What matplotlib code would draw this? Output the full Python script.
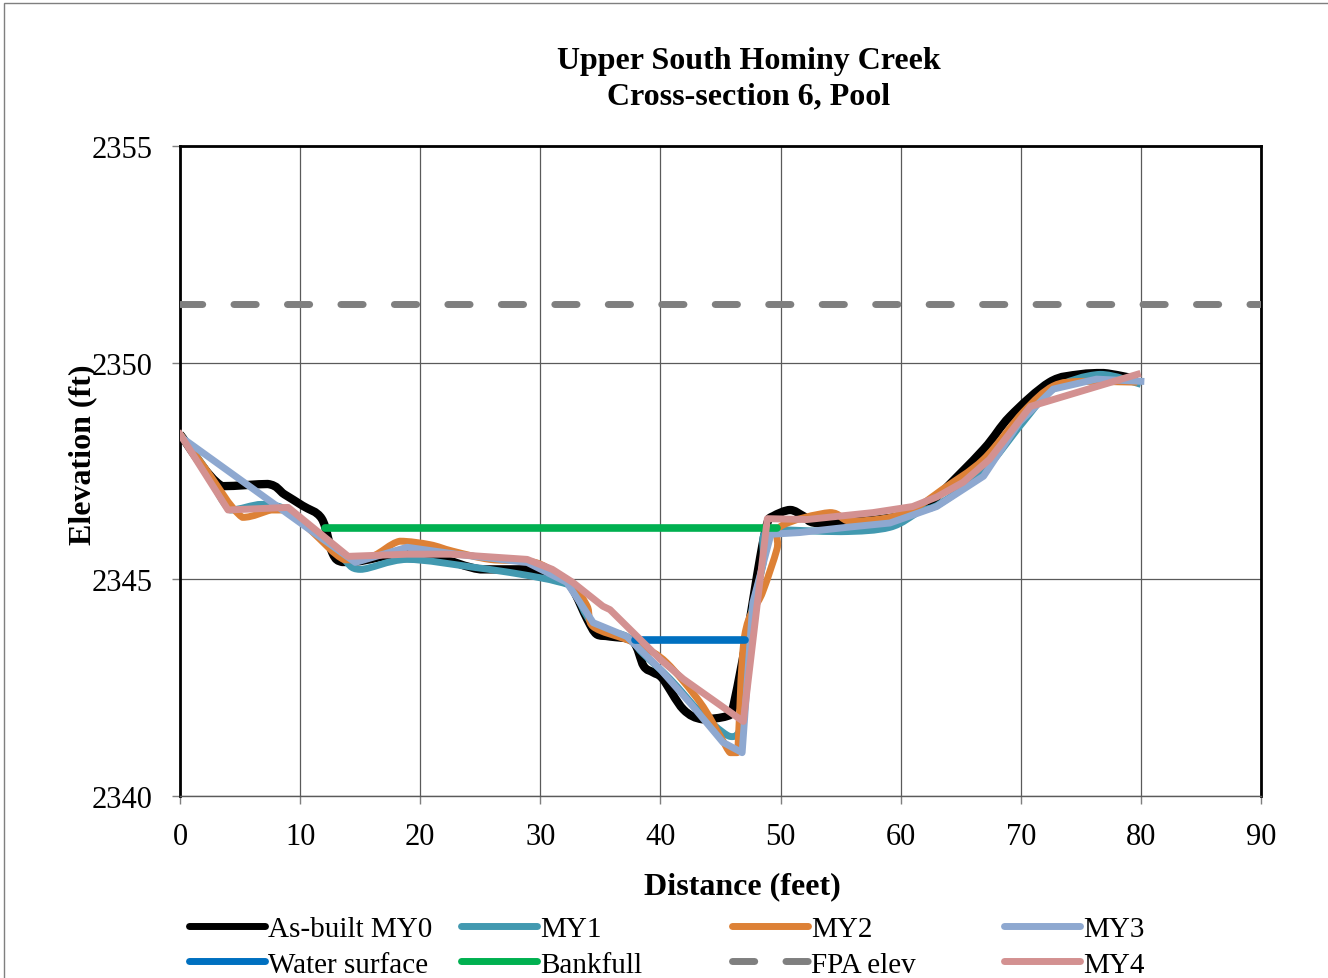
import matplotlib
matplotlib.use("Agg")
import matplotlib.pyplot as plt
import numpy as np
from matplotlib.lines import Line2D
from matplotlib.patches import Rectangle, PathPatch
from matplotlib.path import Path

plt.rcParams['font.family'] = ['Liberation Serif', 'DejaVu Serif']

# Cross-section survey data (distance ft, elevation ft)
my0_x = [0, 3.5, 7.3, 8.7, 10.2, 11.8, 12.7, 13.5, 15, 18.9, 21.6, 25, 28.9, 31.6, 32.7, 33.9,
         34.7, 35.8, 37.7, 38.6, 39.4, 40.2, 41.9, 43.5, 45.5, 46, 47.2, 48.3, 48.9, 49.4, 50.8,
         51.9, 53, 57, 60, 61.6, 63, 66.9, 69.1, 72.4, 74.9, 76.9, 79.7]
my0_y = [2348.35, 2347.15, 2347.2, 2346.96, 2346.7, 2346.4, 2345.6, 2345.4, 2345.42, 2345.62,
         2345.5, 2345.23, 2345.23, 2345.07, 2344.77, 2344.08, 2343.73, 2343.68, 2343.57, 2343.0,
         2342.85, 2342.7, 2342.0, 2341.77, 2341.84, 2342.0, 2343.68, 2345.5, 2346.3, 2346.46,
         2346.6, 2346.46, 2346.3, 2346.35, 2346.46, 2346.6, 2346.9, 2348.0, 2348.76, 2349.55,
         2349.73, 2349.76, 2349.62]

my1_x = [0, 2, 4.2, 6.8, 9, 11, 13.5, 15, 18.9, 24.4, 28.3, 31.4, 32.7, 34.4, 37.2, 38.5, 40.8,
         43.3, 45.2, 46, 46.6, 47.2, 48.5, 49.1, 55, 59.1, 61.6, 63.3, 66.9, 70.2, 72.7, 76.6, 80]
my1_y = [2348.35, 2347.6, 2346.6, 2346.73, 2346.6, 2346.15, 2345.5, 2345.23, 2345.46, 2345.28,
         2345.12, 2344.95, 2344.77, 2343.96, 2343.68, 2343.3, 2342.7, 2341.93, 2341.47, 2341.37,
         2341.53, 2343.68, 2345.3, 2346.15, 2346.1, 2346.2, 2346.57, 2346.75, 2347.5, 2348.63,
         2349.39, 2349.73, 2349.5]

my2_x = [0, 2, 5.2, 7.6, 9, 11, 13.7, 16, 18.3, 20.8, 22.7, 25.8, 28.9, 30.5, 32.7, 33.9, 34.4,
         37.2, 38.5, 40.5, 43.3, 45, 45.8, 46.4, 47, 48.5, 49.7, 50, 54.1, 55.8, 59.1, 61.4, 63.5,
         66.9, 70.2, 72.7, 75.2, 79.7]
my2_y = [2348.35, 2347.6, 2346.43, 2346.6, 2346.6, 2346.1, 2345.45, 2345.53, 2345.88, 2345.8,
         2345.65, 2345.46, 2345.42, 2345.28, 2344.84, 2344.38, 2343.91, 2343.61, 2343.45,
         2343.08, 2342.16, 2341.37, 2341.0, 2341.0, 2343.68, 2344.7, 2345.7, 2346.22, 2346.54,
         2346.34, 2346.43, 2346.68, 2347.08, 2347.77, 2348.86, 2349.46, 2349.57, 2349.55]

my3_x = [0, 14.6, 18.9, 23, 28.9, 32.2, 34.4, 37.2, 40, 42.7, 45.2, 46.8, 47.7, 49.2, 51.6,
         55.5, 59.1, 63, 66.9, 69.9, 72.7, 76.3, 80]
my3_y = [2348.3, 2345.39, 2345.74, 2345.58, 2345.39, 2344.93, 2344.0, 2343.68, 2342.92,
         2342.07, 2341.24, 2341.0, 2344.47, 2346.04, 2346.08, 2346.2, 2346.3, 2346.68, 2347.38,
         2348.63, 2349.39, 2349.62, 2349.57]

my4_x = [0, 4.0, 9.0, 14.0, 18.9, 22.5, 28.9, 31, 32.7, 35.2, 35.8, 40, 41.9, 46.9, 48.9, 52.2,
         57.7, 61, 63, 65.2, 67.4, 70.8, 79.7]
my4_y = [2348.35, 2346.6, 2346.66, 2345.53, 2345.58, 2345.58, 2345.46, 2345.23, 2344.93,
         2344.38, 2344.3, 2343.15, 2342.7, 2341.72, 2346.4, 2346.38, 2346.54, 2346.68, 2346.9,
         2347.24, 2347.77, 2348.99, 2349.73]

water_x = [37.9, 47.0]
water_y = [2343.59, 2343.59]
bankfull_x = [12.1, 49.7]
bankfull_y = [2346.18, 2346.18]
fpa_x = [0, 90]
fpa_y = [2351.35, 2351.35]

FPA_DASH = (3.2, 4.5)


def smooth_line(ax, xs, ys, color, lw):
    # smoothed line: cubic Bezier through each point, control points kept
    # inside each segment's elevation range so it does not overshoot
    p = np.column_stack([xs, ys]).astype(float)
    verts = [p[0]]
    codes = [Path.MOVETO]
    n = len(p)
    for i in range(n - 1):
        p0 = p[i - 1] if i > 0 else p[i]
        p1 = p[i]
        p2 = p[i + 1]
        p3 = p[i + 2] if i + 2 < n else p[i + 1]
        c1 = p1 + (p2 - p0) / 6.0
        c2 = p2 - (p3 - p1) / 6.0
        lo, hi = min(p1[1], p2[1]), max(p1[1], p2[1])
        c1[1] = np.clip(c1[1], lo, hi)
        c2[1] = np.clip(c2[1], lo, hi)
        verts += [c1, c2, p2]
        codes += [Path.CURVE4] * 3
    patch = PathPatch(Path(verts, codes), facecolor='none', edgecolor=color, lw=lw,
                      joinstyle='round', capstyle='butt', zorder=3)
    ax.add_patch(patch)


fig = plt.figure(figsize=(13.28, 9.79), dpi=100)
ax = fig.add_axes([180 / 1328, 1 - 797 / 979, 1081 / 1328, 650 / 979])

smooth_line(ax, my0_x, my0_y, 'black', 6)
smooth_line(ax, my1_x, my1_y, '#4299B0', 5)
smooth_line(ax, my2_x, my2_y, '#DD8136', 5)
ax.plot(my3_x, my3_y, color='#8EA8D0', lw=5, solid_joinstyle='round', zorder=3)
ax.plot(water_x, water_y, color='#0070C0', lw=5.5, solid_capstyle='round', zorder=3)
ax.plot(bankfull_x, bankfull_y, color='#00B050', lw=5.5, solid_capstyle='round', zorder=3)
ax.plot(fpa_x, fpa_y, color='#7F7F7F', lw=5, dashes=FPA_DASH, dash_capstyle='round', zorder=3)
ax.plot(my4_x, my4_y, color='#D39191', lw=5, solid_joinstyle='round', zorder=3)

ax.set_xlim(0, 90)
ax.set_ylim(2340, 2355)
ax.set_xticks(range(0, 91, 10))
ax.set_yticks(range(2340, 2356, 5))
ax.grid(True, color='#5A5A5A', lw=0.9)
ax.set_axisbelow(True)
ax.tick_params(labelsize=22, length=6, width=1, color='#7F7F7F', direction='out')
ax.tick_params(axis='y', pad=14)
ax.tick_params(axis='x', pad=13)
for side in ['left', 'top', 'right']:
    ax.spines[side].set_color('black')
    ax.spines[side].set_linewidth(2)
ax.spines['bottom'].set_color('#5A5A5A')
ax.spines['bottom'].set_linewidth(1)

fig.text(749 / 1328, 1 - 79 / 979, 'Upper South Hominy Creek\nCross-section 6, Pool',
         ha='center', va='center', fontsize=23, fontweight='bold', linespacing=1.3)
fig.text(742 / 1328, 1 - 887 / 979, 'Distance (feet)', ha='center', va='center',
         fontsize=23, fontweight='bold')
fig.text(83 / 1328, 1 - 455 / 979, 'Elevation (ft)', ha='center', va='center',
         fontsize=23, fontweight='bold', rotation=90)

# outer chart border
fig.patches.append(Rectangle((4 / 1328, -0.01), 1.1, 1 - 4 / 979 + 0.01, transform=fig.transFigure,
                             fill=False, edgecolor='#7F7F7F', lw=1))

# legend: four columns of two rows, evenly spaced like the original
legend_cols = [
    [('As-built MY0', 'black', None), ('Water surface', '#0070C0', None)],
    [('MY1', '#4299B0', None), ('Bankfull', '#00B050', None)],
    [('MY2', '#DD8136', None), ('FPA elev', '#7F7F7F', FPA_DASH)],
    [('MY3', '#8EA8D0', None), ('MY4', '#D39191', None)],
]
col_px = [189, 461, 732, 1004]
for px, entries in zip(col_px, legend_cols):
    handles = []
    labels = []
    for name, color, dash in entries:
        if dash:
            h = Line2D([], [], color=color, lw=5, dashes=dash, dash_capstyle='round')
        else:
            h = Line2D([], [], color=color, lw=5, solid_capstyle='round')
        handles.append(h)
        labels.append(name)
    fig.legend(handles, labels, loc='upper left', bbox_to_anchor=(px / 1328, 1 - 917 / 979),
               frameon=False, fontsize=21, handlelength=2.6, handletextpad=0.1,
               borderpad=0, borderaxespad=0, labelspacing=0.3)

fig.savefig('out.png', dpi=100)
